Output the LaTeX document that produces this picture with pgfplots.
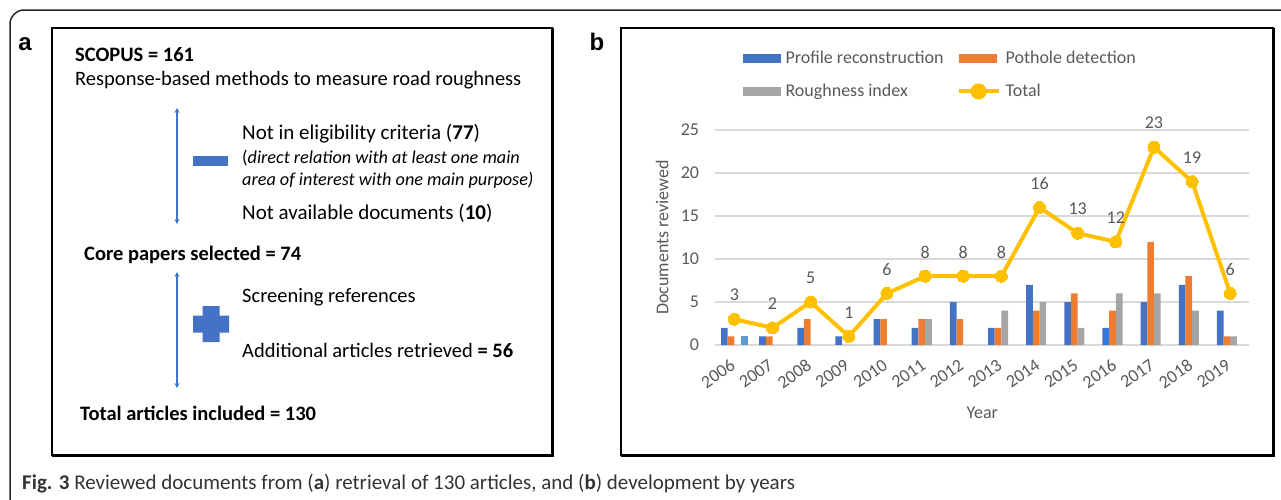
\documentclass[border=0pt]{standalone}
\usepackage{fontspec}
\setmainfont{Carlito}
\newfontfamily\arialfont{Liberation Sans}
\usepackage{pgfplots}
\usepackage{pgfplotstable}
\pgfplotsset{compat=1.18}
\usetikzlibrary{arrows.meta}
\definecolor{cblue}{HTML}{4472C4}
\definecolor{corange}{HTML}{ED7D31}
\definecolor{cgray}{HTML}{A5A5A5}
\definecolor{cyellow}{HTML}{FFC000}
\definecolor{clblue}{HTML}{5B9BD5}
\definecolor{ctext}{HTML}{595959}
\definecolor{cgrid}{HTML}{D9D9D9}
\newcommand\fa{\fontsize{20.5}{24}\selectfont}
\newcommand\fit{\fontsize{18.2}{22}\selectfont}
\newcommand\fc{\fontsize{18}{21}\selectfont}

\pgfplotstableread{
x P Ph R
0 2 1 0
1 1 1 0
2 2 3 0
3 1 0 0
4 3 3 0
5 2 3 3
6 5 3 0
7 2 2 4
8 7 4 5
9 5 6 2
10 2 4 6
11 5 12 6
12 7 8 4
13 4 1 1
}\bars
\pgfplotstableread{
x T
0 3
1 2
2 5
3 1
4 6
5 8
6 8
7 8
8 16
9 13
10 12
11 23
12 19
13 6
}\tot

\begin{document}
\begin{tikzpicture}
\useasboundingbox (0,0) rectangle (1281pt,-499pt);
\clip (0,0) rectangle (1281pt,-499pt);
\begin{scope}[x=1pt,y=-1pt]
% outer frame
\draw[line width=1.5pt, rounded corners=14pt, black!85] (10,540) -- (10,10) -- (1320,10);
% panel frames
\draw[line width=1.4pt] (52,28) rectangle (552,455);
\draw[line width=3pt] (552,28) -- (552,455) -- (52,455);
\draw[line width=1.4pt] (621,28) rectangle (1273,455);
\draw[line width=3pt] (1273,28) -- (1273,455) -- (621,455);
% panel letters
\node[anchor=base, inner sep=0] at (25,50) {\arialfont\bfseries\fontsize{24}{28}\selectfont a};
\node[anchor=base, inner sep=0] at (597,50) {\arialfont\bfseries\fontsize{24}{28}\selectfont b};
% panel a content
\node[anchor=west, inner sep=0] at (75,55) {\fa\textbf{SCOPUS = 161}};
\node[anchor=west, inner sep=0] at (75,80) {\fa Response-based methods to measure road roughness};
\draw[cblue, line width=1.3pt, {Stealth[length=5pt,width=5pt]}-{Stealth[length=5pt,width=5pt]}] (177,108) -- (177,224);
\fill[cblue] (193,156) rectangle (228,166);
\node[anchor=west, inner sep=0] at (242,134) {\fontsize{21}{24}\selectfont Not in eligibility criteria (\textbf{77})};
\node[anchor=west, inner sep=0] at (242,158) {\fit (\textit{direct relation with at least one main}};
\node[anchor=west, inner sep=0] at (242,180) {\fit\textit{area of interest with one main purpose)}};
\node[anchor=west, inner sep=0] at (242,213) {\fontsize{21}{24}\selectfont Not available documents (\textbf{10})};
\node[anchor=west, inner sep=0] at (84,255) {\fa\textbf{Core papers selected = 74}};
\draw[cblue, line width=1.3pt, {Stealth[length=5pt,width=5pt]}-{Stealth[length=5pt,width=5pt]}] (177,272) -- (177,388);
\fill[cblue] (202.5,306) -- (219.5,306) -- (219.5,315.5) -- (229,315.5) -- (229,332.5) -- (219.5,332.5) -- (219.5,342) -- (202.5,342) -- (202.5,332.5) -- (193,332.5) -- (193,315.5) -- (202.5,315.5) -- cycle;
\node[anchor=west, inner sep=0] at (242,297) {\fa Screening references};
\node[anchor=west, inner sep=0] at (242,350) {\fa Additional articles retrieved \textbf{= 56}};
\node[anchor=west, inner sep=0] at (80,413) {\fa\textbf{Total articles included = 130}};
% caption
\node[anchor=west, inner sep=0, text=black!80] at (22,484) {\fontsize{21}{24}\selectfont\textbf{Fig. 3} Reviewed documents from (\textbf{a}) retrieval of 130 articles, and (\textbf{b}) development by years};
\end{scope}

\begin{axis}[
  at={(715.3pt,-345pt)}, anchor=south west,
  scale only axis, width=534pt, height=215pt,
  xmin=-0.5, xmax=13.5, ymin=0, ymax=25,
  xtick={0,...,13},
  xticklabels={2006,2007,2008,2009,2010,2011,2012,2013,2014,2015,2016,2017,2018,2019},
  ytick={0,5,10,15,20,25},
  /pgf/number format/assume math mode=true,
  axis x line*=bottom, axis y line*=left,
  x axis line style={cgrid, line width=1.5pt, -},
  y axis line style={draw=none},
  major tick length=0pt,
  ymajorgrids, grid style={cgrid, line width=1.3pt},
  tick label style={font=\fc, color=ctext},
  yticklabel style={inner sep=0pt, xshift=-16pt},
  xticklabel style={xshift=-5pt, yshift=-13pt, rotate=35, anchor=north east, inner sep=0pt},
  xlabel={Year}, ylabel={Documents reviewed},
  every axis x label/.style={at={(axis description cs:0.5,-0.316)}, anchor=center, font=\fc, color=ctext},
  every axis y label/.style={at={(axis description cs:-0.0995,0.5)}, rotate=90, anchor=center, font=\fc, color=ctext},
  legend columns=2,
  legend style={at={(axis description cs:0.045,1.385)}, anchor=north west, draw=none, fill=none,
    font=\fc, text=ctext, row sep=15pt,
    /tikz/every even column/.append style={column sep=11pt},
    /tikz/every odd column/.append style={column sep=3pt}},
  legend cell align=left,
]
\addplot[ybar, bar width=6.7pt, bar shift=-10pt, fill=cblue, draw=none,
  legend image code/.code={\fill[cblue] (0pt,-4.5pt) rectangle (38pt,4.5pt);}]
  table[x=x,y=P]{\bars};
\addlegendentry{Profile reconstruction}
\addplot[ybar, bar width=6.7pt, bar shift=-3.35pt, fill=corange, draw=none,
  legend image code/.code={\fill[corange] (0pt,-4.5pt) rectangle (38pt,4.5pt);}]
  table[x=x,y=Ph]{\bars};
\addlegendentry{Pothole detection}
\addplot[ybar, bar width=6.7pt, bar shift=3.35pt, fill=cgray, draw=none,
  legend image code/.code={\fill[cgray] (0pt,-4.5pt) rectangle (38pt,4.5pt);}]
  table[x=x,y=R]{\bars};
\addlegendentry{Roughness index}
\addplot[ybar, bar width=6.7pt, bar shift=10pt, fill=clblue, draw=none, forget plot]
  coordinates {(0,1)};
\addplot[cyellow, line width=4pt, mark=*, mark size=6pt,
  mark options={fill=cyellow, draw=cyellow, line width=0pt},
  nodes near coords,
  every node near coord/.style={font=\fc, color=ctext, anchor=center, yshift=24pt},
  legend image code/.code={\draw[cyellow, line width=4pt] (0pt,0pt) -- (40pt,0pt); \fill[cyellow] (20pt,0pt) circle (6pt);}]
  table[x=x,y=T]{\tot};
\addlegendentry{Total}
\end{axis}
\end{tikzpicture}
\end{document}
